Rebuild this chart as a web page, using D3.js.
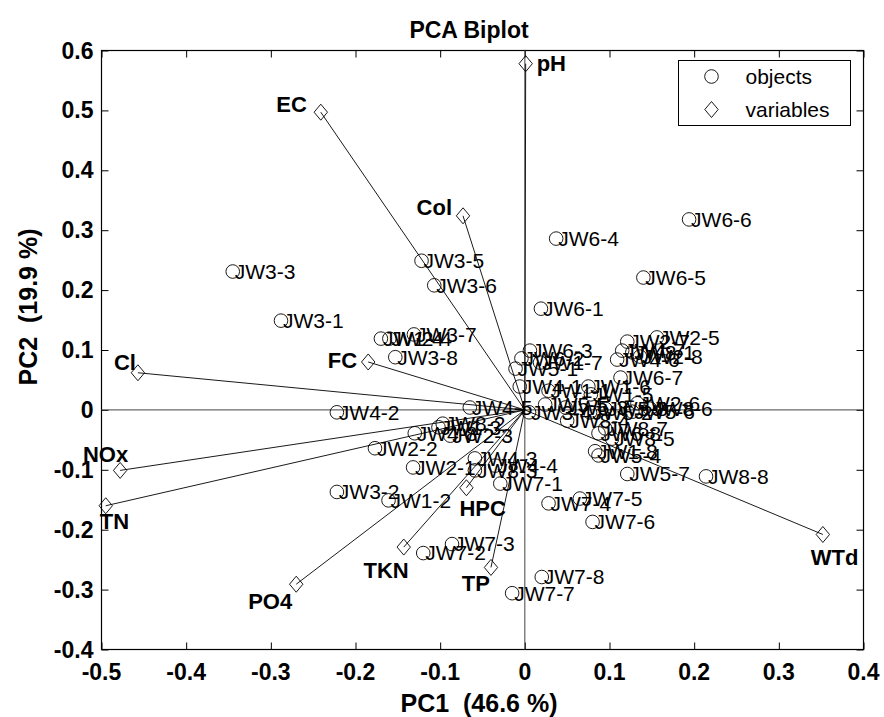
<!DOCTYPE html>
<html>
<head>
<meta charset="utf-8">
<script src="https://cdn.jsdelivr.net/npm/d3@7"></script>
<style>
  body { margin: 0; background: #fff; }
  svg { display: block; font-family: 'Liberation Sans', Arial, Helvetica, sans-serif; }
  .tick-label { font-size: 23px; font-weight: bold; }
  .axis-title { font-size: 25px; font-weight: bold; white-space: pre; }
  .obj-label { font-size: 21px; }
  .var-label { font-size: 22px; font-weight: bold; }
  .legend-label { font-size: 21px; }
</style>
</head>
<body>
<div id="chart"></div>
<script>
// Scores (objects)
const objectNames = [
  'JW1-1', 'JW1-2', 'JW1-3', 'JW1-4', 'JW1-5', 'JW1-6', 'JW1-7', 'JW1-8',
  'JW2-1', 'JW2-2', 'JW2-3', 'JW2-4', 'JW2-5', 'JW2-6', 'JW2-7', 'JW2-8',
  'JW3-1', 'JW3-2', 'JW3-3', 'JW3-4', 'JW3-5', 'JW3-6', 'JW3-7', 'JW3-8',
  'JW4-1', 'JW4-2', 'JW4-3', 'JW4-4', 'JW4-5', 'JW4-6', 'JW4-7', 'JW4-8',
  'JW5-1', 'JW5-2', 'JW5-3', 'JW5-4', 'JW5-5', 'JW5-6', 'JW5-7', 'JW5-8',
  'JW6-1', 'JW6-2', 'JW6-3', 'JW6-4', 'JW6-5', 'JW6-6', 'JW6-7', 'JW6-8',
  'JW7-1', 'JW7-2', 'JW7-3', 'JW7-4', 'JW7-5', 'JW7-6', 'JW7-7', 'JW7-8',
  'JW8-1', 'JW8-2', 'JW8-3', 'JW8-4', 'JW8-5', 'JW8-6', 'JW8-7', 'JW8-8'
];
const objectPC1 = [
  0.028, -0.161, -0.102, -0.170, 0.078, 0.075, 0.018, 0.083,
  -0.132, -0.177, -0.088, -0.160, 0.156, 0.133, 0.121, 0.136,
  -0.288, -0.222, -0.345, 0.005, -0.122, -0.107, -0.131, -0.153,
  -0.006, -0.222, -0.059, -0.035, -0.065, 0.109, 0.115, -0.130,
  -0.011, 0.077, 0.048, 0.087, 0.024, 0.127, 0.121, 0.095,
  0.019, -0.004, 0.006, 0.037, 0.140, 0.194, 0.113, 0.087,
  -0.029, -0.120, -0.086, 0.028, 0.065, 0.080, -0.015, 0.020,
  0.127, -0.097, -0.059, 0.050, 0.103, 0.148, 0.095, 0.214
];
const objectPC2 = [
  0.032, -0.151, -0.029, 0.119, 0.026, 0.039, 0.079, -0.069,
  -0.096, -0.064, -0.043, 0.119, 0.121, 0.011, 0.114, 0.089,
  0.149, -0.137, 0.231, -0.004, 0.249, 0.208, 0.126, 0.088,
  0.039, -0.004, -0.081, -0.093, 0.004, 0.084, 0.099, -0.039,
  0.069, -0.004, 0.004, -0.076, 0.009, -0.003, -0.107, 0.002,
  0.169, 0.086, 0.099, 0.286, 0.221, 0.318, 0.054, -0.039,
  -0.123, -0.239, -0.224, -0.156, -0.148, -0.187, -0.306, -0.279,
  0.096, -0.023, -0.101, -0.018, -0.048, 0.002, -0.031, -0.111
];

// Loadings (variables)
const variableNames = ['pH', 'EC', 'Col', 'Cl', 'FC', 'NOx', 'TN', 'PO4', 'TKN', 'HPC', 'TP', 'WTd'];
const variablePC1 = [0.001, -0.241, -0.073, -0.457, -0.185, -0.478, -0.495, -0.270, -0.143, -0.069, -0.040, 0.352];
const variablePC2 = [0.578, 0.497, 0.324, 0.062, 0.080, -0.101, -0.160, -0.291, -0.229, -0.130, -0.263, -0.208];

// Ticks and titles
const xTicks = [-0.5, -0.4, -0.3, -0.2, -0.1, 0, 0.1, 0.2, 0.3, 0.4];
const yTicks = [-0.4, -0.3, -0.2, -0.1, 0, 0.1, 0.2, 0.3, 0.4, 0.5, 0.6];
const titleText = 'PCA Biplot';
const xTitle = 'PC1  (46.6 %)';
const yTitle = 'PC2  (19.9 %)';
const legendLabels = ['objects', 'variables'];

// where each variable name sits next to its marker (pixels)
const varLabelPlace = {
  pH: { dx: 11, dy: 0, anchor: 'start' },
  EC: { dx: -14, dy: -8, anchor: 'end' },
  Col: { dx: -11, dy: -9, anchor: 'end' },
  Cl: { dx: -2, dy: -10, anchor: 'end' },
  FC: { dx: -11, dy: -2, anchor: 'end' },
  NOx: { dx: 8, dy: -16, anchor: 'end' },
  TN: { dx: -6, dy: 16, anchor: 'start' },
  PO4: { dx: -4, dy: 17, anchor: 'end' },
  TKN: { dx: 5, dy: 23, anchor: 'end' },
  HPC: { dx: -7, dy: 21, anchor: 'start' },
  TP: { dx: -1, dy: 16, anchor: 'end' },
  WTd: { dx: -12, dy: 23, anchor: 'start' },
};

const Chart = {
  init() {
    this.wrapper = document.querySelector('#chart');

    this.objects = objectNames.map((name, i) => ({ name, x: objectPC1[i], y: objectPC2[i] }));
    this.variables = variableNames.map((name, i) => ({ name, x: variablePC1[i], y: variablePC2[i] }));

    this.setVar();
    this.create();
    this.scales();
    this.axis();
    this.zeroLines();
    this.vectors();
    this.points();
    this.labels();
    this.legend();
  },

  setVar() {
    this.width = 884;
    this.height = 717;

    // plot box in page pixels
    this.box = { left: 101.5, right: 863.5, top: 50.5, bottom: 649.5 };
    this.tickLen = 7;

    this.diamond = 'M0,-8L6.7,0L0,8L-6.7,0Z';
    this.circleR = 6.8;
  },

  create() {
    this.svg = d3.select('#chart').append('svg')
      .attr('width', this.width)
      .attr('height', this.height);

    this.g = this.svg.append('g');
  },

  scales() {
    this.x = d3.scaleLinear()
      .domain([-0.5, 0.4])
      .range([this.box.left, this.box.right]);

    this.y = d3.scaleLinear()
      .domain([-0.4, 0.6])
      .range([this.box.bottom, this.box.top]);
  },

  axis() {
    const { box, tickLen } = this;
    const fmt = (d) => String(+d.toFixed(1));

    // ticks pointing inwards on all four sides, like a boxed matlab axes
    this.g.append('g').attr('transform', `translate(0, ${box.bottom})`)
      .call(d3.axisBottom(this.x).tickValues(xTicks).tickSizeInner(-tickLen).tickSizeOuter(0).tickFormat(''));
    this.g.append('g').attr('transform', `translate(0, ${box.top})`)
      .call(d3.axisTop(this.x).tickValues(xTicks).tickSizeInner(-tickLen).tickSizeOuter(0).tickFormat(''));
    this.g.append('g').attr('transform', `translate(${box.left}, 0)`)
      .call(d3.axisLeft(this.y).tickValues(yTicks).tickSizeInner(-tickLen).tickSizeOuter(0).tickFormat(''));
    this.g.append('g').attr('transform', `translate(${box.right}, 0)`)
      .call(d3.axisRight(this.y).tickValues(yTicks).tickSizeInner(-tickLen).tickSizeOuter(0).tickFormat(''));

    this.g.selectAll('.domain').remove();
    this.g.selectAll('.tick line').attr('stroke', '#000').attr('stroke-width', 1);

    this.g.append('rect')
      .attr('x', box.left)
      .attr('y', box.top)
      .attr('width', box.right - box.left)
      .attr('height', box.bottom - box.top)
      .attr('fill', 'none')
      .attr('stroke', '#000')
      .attr('stroke-width', 1.2);

    // tick labels
    this.g.append('g').selectAll('text')
      .data(xTicks)
      .join('text')
      .attr('class', 'tick-label')
      .attr('x', (d) => this.x(d))
      .attr('y', 680)
      .attr('text-anchor', 'middle')
      .text(fmt);

    this.g.append('g').selectAll('text')
      .data(yTicks)
      .join('text')
      .attr('class', 'tick-label')
      .attr('x', box.left - 8)
      .attr('y', (d) => this.y(d))
      .attr('dy', '0.35em')
      .attr('text-anchor', 'end')
      .text(fmt);

    // titles
    this.svg.append('text')
      .attr('class', 'axis-title')
      .attr('x', 469)
      .attr('y', 38)
      .attr('text-anchor', 'middle')
      .style('font-size', '23px')
      .text(titleText);

    this.svg.append('text')
      .attr('class', 'axis-title')
      .attr('x', 479)
      .attr('y', 712)
      .attr('text-anchor', 'middle')
      .text(xTitle);

    this.svg.append('text')
      .attr('class', 'axis-title')
      .attr('transform', 'translate(37, 307) rotate(-90)')
      .attr('text-anchor', 'middle')
      .text(yTitle);
  },

  zeroLines() {
    const { box } = this;
    this.g.append('line')
      .attr('x1', box.left).attr('x2', box.right)
      .attr('y1', this.y(0)).attr('y2', this.y(0))
      .attr('stroke', '#444');
    this.g.append('line')
      .attr('x1', this.x(0)).attr('x2', this.x(0))
      .attr('y1', box.top).attr('y2', box.bottom)
      .attr('stroke', '#444');
  },

  vectors() {
    this.g.append('g').selectAll('line')
      .data(this.variables)
      .join('line')
      .attr('x1', this.x(0))
      .attr('y1', this.y(0))
      .attr('x2', (d) => this.x(d.x))
      .attr('y2', (d) => this.y(d.y))
      .attr('stroke', '#000')
      .attr('stroke-width', 0.9);
  },

  points() {
    this.g.append('g').selectAll('circle')
      .data(this.objects)
      .join('circle')
      .attr('cx', (d) => this.x(d.x))
      .attr('cy', (d) => this.y(d.y))
      .attr('r', this.circleR)
      .attr('fill', 'none')
      .attr('stroke', '#000')
      .attr('stroke-width', 0.9);

    this.g.append('g').selectAll('path')
      .data(this.variables)
      .join('path')
      .attr('d', this.diamond)
      .attr('transform', (d) => `translate(${this.x(d.x)}, ${this.y(d.y)})`)
      .attr('fill', 'none')
      .attr('stroke', '#000')
      .attr('stroke-width', 0.9);
  },

  labels() {
    this.g.append('g').selectAll('text')
      .data(this.objects)
      .join('text')
      .attr('class', 'obj-label')
      .attr('x', (d) => this.x(d.x) + 2)
      .attr('y', (d) => this.y(d.y))
      .attr('dy', '0.35em')
      .text((d) => d.name);

    this.g.append('g').selectAll('text')
      .data(this.variables)
      .join('text')
      .attr('class', 'var-label')
      .attr('x', (d) => this.x(d.x) + varLabelPlace[d.name].dx)
      .attr('y', (d) => this.y(d.y) + varLabelPlace[d.name].dy)
      .attr('dy', '0.35em')
      .attr('text-anchor', (d) => varLabelPlace[d.name].anchor)
      .text((d) => d.name);
  },

  legend() {
    const lg = this.svg.append('g').attr('transform', 'translate(678.5, 60.5)');

    lg.append('rect')
      .attr('width', 172)
      .attr('height', 65)
      .attr('fill', '#fff')
      .attr('stroke', '#000')
      .attr('stroke-width', 1);

    lg.append('circle')
      .attr('cx', 33)
      .attr('cy', 16)
      .attr('r', this.circleR)
      .attr('fill', 'none')
      .attr('stroke', '#000')
      .attr('stroke-width', 0.9);

    lg.append('path')
      .attr('d', this.diamond)
      .attr('transform', 'translate(33, 49)')
      .attr('fill', 'none')
      .attr('stroke', '#000')
      .attr('stroke-width', 0.9);

    lg.selectAll('text.legend-label')
      .data(legendLabels)
      .join('text')
      .attr('class', 'legend-label')
      .attr('x', 67)
      .attr('y', (d, i) => 16 + i * 33)
      .attr('dy', '0.35em')
      .text((d) => d);
  },
};

Chart.init();
</script>
</body>
</html>
